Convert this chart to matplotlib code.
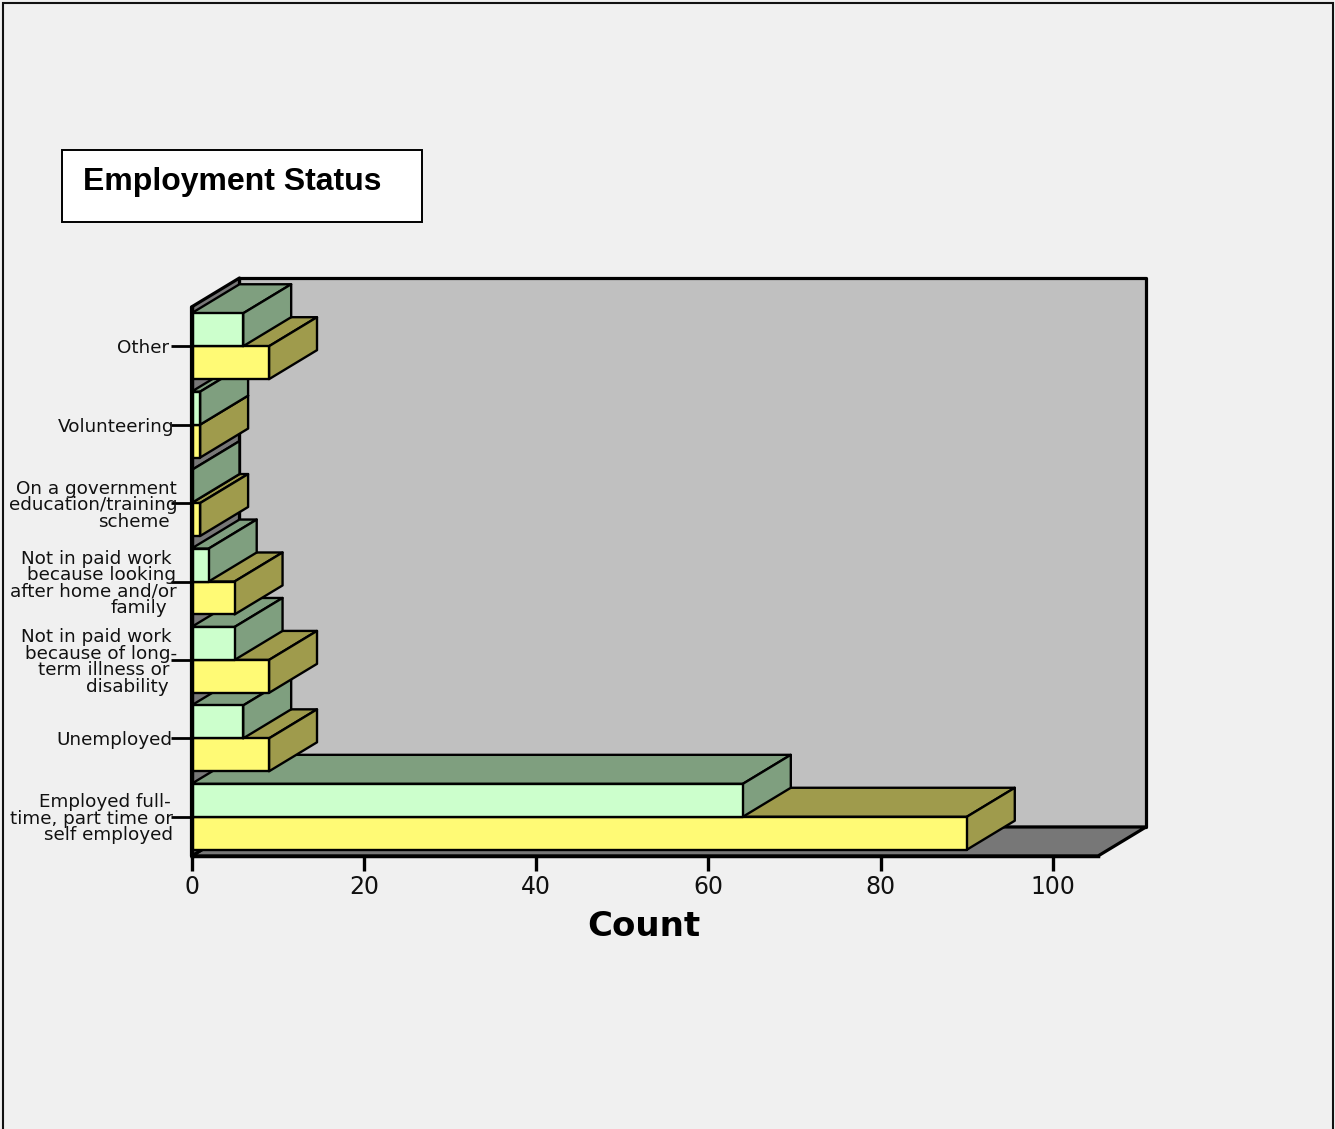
import matplotlib
matplotlib.use("Agg")
import matplotlib.pyplot as plt
from matplotlib.patches import Polygon, Rectangle

categories = [
    ["Employed full-", "time, part time or", "self employed"],
    ["Unemployed"],
    ["Not in paid work", "because of long-", "term illness or", "disability"],
    ["Not in paid work", "because looking", "after home and/or", "family"],
    ["On a government", "education/training", "scheme"],
    ["Volunteering"],
    ["Other"],
]
yellow_counts = [90, 9, 9, 5, 1, 1, 9]
green_counts = [64, 6, 5, 2, 0, 1, 6]
count_ticks = [0, 20, 40, 60, 80, 100]

# right edge of each label line, pixels
label_right = [
    [171, 173, 173],
    [172],
    [172, 177, 169, 169],
    [172, 176, 177, 167],
    [177, 177, 170],
    [174],
    [169],
]

W, H = 1335, 1129
BG = "#f0f0f0"
WALL = "#c0c0c0"
FLOOR = "#777777"
YELLOW, YELLOW_TOP = "#fffa75", "#9f9b4c"
GREEN, GREEN_TOP = "#ccffcc", "#7f9f7f"

# plot box in pixels (front plane)
LEFT, RIGHT, TOP, BOTTOM = 191.5, 1098, 307, 856
DEPTH_X = 5.57  # counts
DEPTH_Y = 0.37  # category units
BAR_H = 0.42
XMAX = 105.23

fig = plt.figure(figsize=(W / 100, H / 100), dpi=100, facecolor=BG)
ax = fig.add_axes([LEFT / W, 1 - BOTTOM / H, (RIGHT - LEFT) / W, (BOTTOM - TOP) / H])
ax.set_xlim(0, XMAX)
ax.set_ylim(-0.5, 6.5)
ax.patch.set_visible(False)


def face(pts, color, lw=1.7):
    ax.add_patch(Polygon(pts, closed=True, facecolor=color, edgecolor="black",
                         linewidth=lw, clip_on=False, joinstyle="round"))


def bar_3d(y0, y1, val, front, shade):
    # top and side first, then the front face
    face([(0, y1), (val, y1), (val + DEPTH_X, y1 + DEPTH_Y), (DEPTH_X, y1 + DEPTH_Y)], shade)
    face([(val, y0), (val + DEPTH_X, y0 + DEPTH_Y), (val + DEPTH_X, y1 + DEPTH_Y), (val, y1)], shade)
    if val > 0:
        face([(0, y0), (val, y0), (val, y1), (0, y1)], front)


# walls
face([(DEPTH_X, -0.5 + DEPTH_Y), (XMAX + DEPTH_X, -0.5 + DEPTH_Y),
      (XMAX + DEPTH_X, 6.5 + DEPTH_Y), (DEPTH_X, 6.5 + DEPTH_Y)], WALL, 2.3)
face([(0, -0.5), (XMAX, -0.5), (XMAX + DEPTH_X, -0.5 + DEPTH_Y), (DEPTH_X, -0.5 + DEPTH_Y)], FLOOR, 2.3)
face([(0, -0.5), (DEPTH_X, -0.5 + DEPTH_Y), (DEPTH_X, 6.5 + DEPTH_Y), (0, 6.5)], FLOOR, 2.3)

# bars, front category first
for i in range(len(categories)):
    bar_3d(i - BAR_H, i, yellow_counts[i], YELLOW, YELLOW_TOP)
    bar_3d(i, i + BAR_H, green_counts[i], GREEN, GREEN_TOP)

for side in ["top", "right"]:
    ax.spines[side].set_visible(False)
for side in ["left", "bottom"]:
    ax.spines[side].set_linewidth(2.5)

ax.set_xticks(count_ticks)
ax.set_xticklabels([str(t) for t in count_ticks], fontsize=17, color="#111111")
ax.tick_params(axis="x", length=10.5, width=2.4, pad=3.5)
ax.set_yticks(range(len(categories)))
ax.set_yticklabels([])
ax.tick_params(axis="y", length=15, width=2)
ax.set_xlabel("Count", fontsize=24.5, fontweight="bold")
ax.xaxis.set_label_coords((644 - LEFT) / (RIGHT - LEFT), -(935.5 - BOTTOM) / (BOTTOM - TOP))
ax.xaxis.label.set_va("baseline")

for i, lines in enumerate(categories):
    n = len(lines)
    for j, line in enumerate(lines):
        ax.annotate(line, xy=(0, i), xytext=(label_right[i][j] - LEFT, -((j - (n - 1) / 2) * 16.5 + 7)),
                    textcoords="offset pixels", ha="right", va="baseline",
                    fontsize=13.25, color="#111111", annotation_clip=False)

# outer frame, runs off the bottom of the image
fig.add_artist(Rectangle((2.5 / W, -0.1), (1333 - 2.5) / W, 1.1 - 3 / H, transform=fig.transFigure,
                         facecolor="none", edgecolor="#111111", linewidth=1.5))

# title box
fig.add_artist(Rectangle((62 / W, 1 - 222 / H), 360 / W, 72 / H, transform=fig.transFigure,
                         facecolor="white", edgecolor="black", linewidth=1.4))
fig.text(83 / W, 1 - 190 / H, "Employment Status", fontsize=23, fontweight="bold",
         family="Liberation Sans", color="black", ha="left", va="baseline")

fig.savefig("out.png", dpi=100, facecolor=BG)
